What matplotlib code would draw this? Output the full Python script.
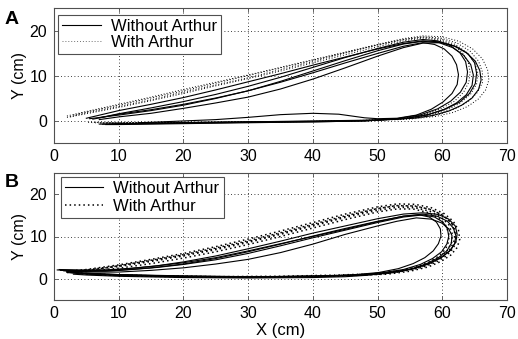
import matplotlib
matplotlib.use("Agg")
import matplotlib.pyplot as plt
from matplotlib.lines import Line2D

plt.rcParams['font.family'] = ['Liberation Sans', 'DejaVu Sans']

# ---------------- data (X, Y in cm) ----------------
A_without = [
    [(5,0.5),(10,2.2),(15,3.6),(20,5.1),(25,6.8),(30,8.6),(35,10.4),(40,12.3),(45,14.1),(50,15.9),(54,17.1),(57,17.7),(59.5,17.5),(61.8,16.6),(63.7,15.1),(65.1,13.2),(65.8,11.1),(66,9),(65.6,6.9),(64.6,5),(63,3.4),(61,2.1),(58.5,1.1),(55.5,0.5),(50,0.1),(45,0),(40,-0.1),(35,-0.2),(30,-0.3),(20,-0.5),(10,-0.7),(7.5,-0.8)],
    [(6,0.3),(10,1.4),(15,2.4),(20,3.6),(25,5.0),(30,6.6),(35,8.5),(40,10.6),(45,12.8),(50,14.9),(54,16.5),(57,17.3),(58.8,16.9),(60.3,15.9),(61.5,14.3),(62.2,12.4),(62.5,10.2),(62.3,8),(61.5,6),(60.1,4.1),(58.3,2.5),(56,1.2),(53,0.5),(50,0.4),(48,0.6),(44,1.4),(40,1.6),(35,1.3),(30,0.7),(25,0.2),(20,-0.1),(15,-0.4),(13,-0.5)],
    [(7,0.6),(10,1.5),(15,2.8),(20,4.2),(25,5.8),(30,7.6),(35,9.6),(40,11.8),(45,14.0),(50,16.0),(54,17.4),(57,18.0),(59.3,17.7),(61.2,16.7),(62.7,15.1),(63.6,13.1),(63.9,10.8),(63.7,8.5),(62.8,6.3),(61.3,4.3),(59.3,2.6),(56.7,1.3),(53,0.4),(48,-0.1),(40,-0.3),(30,-0.5),(20,-0.7),(10,-0.9),(8,-0.9)],
    [(5.5,0.4),(10,1.2),(15,2.2),(20,3.4),(25,4.9),(30,6.6),(35,8.7),(40,11.0),(45,13.3),(50,15.5),(54,17.0),(57,17.6),(59.5,17.3),(61.6,16.2),(63.3,14.5),(64.4,12.4),(64.8,10.1),(64.6,7.8),(63.7,5.7),(62.2,3.9),(60.2,2.4),(57.6,1.2),(54,0.4),(48,-0.1),(40,-0.3),(30,-0.4),(20,-0.6),(10,-0.8),(7,-0.8)],
    [(7,0.2),(10,0.8),(15,1.6),(20,2.7),(25,3.9),(30,5.2),(35,7.0),(40,9.2),(45,11.7),(50,14.3),(54,16.2),(57,17.2),(59.8,17.3),(62.2,16.4),(64,14.8),(65,12.8),(65.3,10.5),(65.1,8.2),(64.2,6),(62.7,4.1),(60.6,2.6),(58,1.4),(54.5,0.5),(48,0),(40,-0.2),(30,-0.3),(20,-0.5),(12,-0.7),(9,-0.8)],
]
A_with = [
    [(2,1.0),(5,2.0),(10,3.6),(15,5.2),(20,6.9),(25,8.5),(30,10.1),(35,11.8),(40,13.5),(45,15.2),(50,16.9),(54,18.2),(57,18.8),(60,18.6),(62.6,17.6),(64.7,15.9),(66.2,13.7),(67,11.3),(67.2,9),(66.7,6.8),(65.6,4.8),(63.9,3.1),(61.7,1.8),(59,0.9),(55,0.3),(50,0),(40,-0.2),(30,-0.3),(20,-0.4),(10,-0.5),(5,-0.4)],
    [(2.5,0.8),(5,1.7),(10,3.1),(15,4.6),(20,6.3),(25,7.9),(30,9.5),(35,11.3),(40,13.1),(45,15.0),(50,16.8),(54,18.0),(57,18.5),(59.7,18.1),(62,16.9),(63.8,15.1),(65,12.9),(65.5,10.5),(65.3,8.1),(64.4,5.9),(62.8,3.9),(60.7,2.3),(58,1.2),(55,0.5),(50,0.1),(40,-0.2),(30,-0.4),(20,-0.5),(10,-0.6),(7,-0.6)],
    [(3,1.2),(5,1.9),(10,3.4),(15,5.0),(20,6.6),(25,8.3),(30,10.0),(35,11.7),(40,13.4),(45,15.1),(50,16.8),(54,18.0),(57,18.6),(59.8,18.3),(62.3,17.2),(64.3,15.4),(65.6,13.2),(66.2,10.8),(66.2,8.4),(65.4,6.2),(64,4.2),(62,2.6),(59.5,1.4),(56.5,0.6),(52,0.2),(45,-0.1),(35,-0.3),(25,-0.4),(15,-0.5),(8,-0.5)],
    [(2,0.7),(5,1.5),(10,2.9),(15,4.4),(20,6.0),(25,7.7),(30,9.3),(35,11.0),(40,12.8),(45,14.6),(50,16.4),(54,17.7),(57,18.3),(59.5,17.9),(61.6,16.8),(63.1,15.1),(64,13),(64.3,10.8),(64.1,8.5),(63.3,6.3),(61.9,4.3),(59.9,2.7),(57.4,1.4),(54,0.5),(48,0),(40,-0.2),(30,-0.3),(20,-0.4),(10,-0.5),(6,-0.5)],
]
B_without = [
    [(0.5,2.1),(3,2.0),(6,1.9),(10,2.2),(15,2.9),(20,3.8),(25,5.0),(30,6.6),(35,8.3),(40,10.0),(45,11.7),(50,13.5),(54,14.8),(57,15.3),(59.2,14.8),(60.8,13.6),(61.7,12),(62.1,10.2),(61.9,8.3),(61.1,6.5),(59.7,4.9),(57.8,3.5),(55.3,2.3),(52,1.5),(48,1.0),(45,0.8),(40,0.6),(30,0.5),(20,0.7),(10,1.0),(5,1.3),(2,1.7)],
    [(1,2.0),(4,1.8),(8,1.8),(12,2.2),(16,2.7),(20,3.4),(25,4.5),(30,6.0),(35,7.8),(40,9.7),(45,11.5),(50,13.3),(54,14.6),(57,15.1),(58.8,14.6),(60.1,13.4),(60.8,11.8),(61,10),(60.7,8.2),(59.9,6.4),(58.5,4.8),(56.6,3.4),(54,2.2),(50.5,1.4),(46,0.8),(40,0.5),(30,0.4),(20,0.5),(10,0.8),(4,1.2),(2,1.5)],
    [(1.5,1.9),(5,1.6),(10,1.6),(15,2.0),(20,2.6),(25,3.5),(30,4.6),(35,6.2),(40,8.2),(45,10.5),(50,12.5),(53,13.6),(56,14.4),(58.3,14.1),(59.9,13.2),(61,11.8),(61.5,10.2),(61.4,8.4),(60.7,6.6),(59.4,5),(57.6,3.6),(55.2,2.3),(52,1.4),(48,0.8),(45,0.5),(40,0.3),(30,0.2),(20,0.3),(10,0.6),(5,0.9),(3,1.1)],
    [(0.8,2.2),(4,2.1),(8,2.1),(12,2.5),(16,3.1),(20,4.0),(25,5.4),(30,7.1),(35,8.9),(40,10.8),(45,12.5),(50,14.2),(54,15.3),(57,15.6),(59.4,15.2),(61,14.1),(62,12.5),(62.3,10.6),(62.1,8.7),(61.3,6.8),(59.9,5.1),(58,3.6),(55.5,2.4),(52.3,1.5),(48,0.9),(40,0.6),(30,0.5),(20,0.6),(10,1.0),(4,1.4),(2,1.7)],
    [(1.2,2.0),(5,1.8),(10,2.0),(15,2.6),(20,3.5),(25,4.8),(30,6.4),(35,8.2),(40,10.1),(45,11.9),(50,13.6),(54,14.8),(56.5,15.1),(58,14.6),(59.1,13.4),(59.7,11.8),(59.8,10.1),(59.4,8.3),(58.6,6.6),(57.3,5),(55.5,3.6),(53.2,2.4),(50.2,1.5),(46,0.9),(40,0.6),(30,0.4),(20,0.5),(10,0.9),(5,1.2),(2.5,1.5)],
]
B_with = [
    [(2,1.8),(5,2.2),(10,3.3),(15,4.6),(20,6.0),(25,7.6),(30,9.4),(35,11.3),(40,13.3),(45,15.3),(50,17.0),(53,17.7),(55.8,17.6),(58.3,16.8),(60.3,15.4),(61.7,13.6),(62.5,11.5),(62.7,9.4),(62.3,7.4),(61.3,5.6),(59.8,4.1),(57.8,2.8),(55,1.8),(51.5,1.1),(45,0.8),(40,0.6),(30,0.4),(20,0.5),(10,0.8),(5,1.2)],
    [(2.5,1.6),(5,2.0),(10,2.9),(15,4.1),(20,5.4),(25,6.9),(30,8.6),(35,10.5),(40,12.5),(45,14.5),(50,16.2),(53,16.9),(55.7,16.8),(58,16),(59.8,14.6),(61,12.8),(61.5,10.8),(61.5,8.8),(60.9,6.9),(59.8,5.2),(58.2,3.8),(56,2.6),(53.2,1.7),(49.5,1.1),(43,0.7),(35,0.5),(25,0.5),(15,0.7),(8,1.0),(4,1.3)],
    [(3,1.7),(6,2.1),(10,3.1),(15,4.4),(20,5.7),(25,7.3),(30,9.0),(35,10.9),(40,12.9),(45,14.9),(50,16.6),(53,17.3),(55.8,17.2),(58.2,16.4),(60.1,15),(61.4,13.2),(61.9,11.2),(61.9,9.2),(61.3,7.2),(60.2,5.4),(58.6,3.9),(56.5,2.7),(53.7,1.8),(50,1.2),(44,0.8),(35,0.5),(25,0.5),(15,0.7),(8,1.0),(5,1.2)],
    [(2,1.5),(5,1.8),(10,2.5),(15,3.6),(20,4.9),(25,6.4),(30,8.1),(35,10.0),(40,12.0),(45,14.0),(50,15.8),(53,16.5),(55.5,16.5),(57.7,15.7),(59.4,14.4),(60.5,12.7),(61,10.8),(61,8.9),(60.5,7),(59.5,5.4),(58,4),(56,2.8),(53.3,1.9),(49.5,1.2),(44,0.9),(35,0.6),(25,0.5),(15,0.6),(8,0.9),(4,1.2)],
    [(2.5,1.7),(5,2.1),(10,3.1),(15,4.3),(20,5.6),(25,7.1),(30,8.8),(35,10.7),(40,12.7),(45,14.7),(50,16.6),(52.5,17.2),(55.3,17.2),(57.9,16.5),(60,15.1),(61.4,13.3),(62.1,11.3),(62.2,9.2),(61.7,7.2),(60.6,5.4),(59,3.9),(56.9,2.7),(54,1.8),(50.5,1.1),(45,0.7),(35,0.5),(25,0.5),(15,0.7),(8,1.0),(4,1.3)],
]
x_ticks = [0, 10, 20, 30, 40, 50, 60, 70]
y_ticks = [0, 10, 20]
legend_labels = ["Without Arthur", "With Arthur"]
panel_labels = ["A", "B"]

# ---------------- figure ----------------
W, H = 518, 339
fig = plt.figure(figsize=(W/100, H/100), dpi=100)

def px_axes(l, t, r, b):
    return fig.add_axes([l/W, 1-b/H, (r-l)/W, (b-t)/H])

axA = px_axes(54, 8, 507, 143)
axB = px_axes(54, 173, 507, 300)

edge = '#505050'

def style(ax):
    ax.set_xlim(0, 70)
    ax.set_ylim(-5, 25)
    ax.set_xticks(x_ticks)
    ax.set_yticks(y_ticks)
    ax.tick_params(direction='in', length=3, width=0.6, color=edge,
                   labelsize=11.5, top=True, right=True)
    ax.tick_params(axis='x', pad=4)
    ax.tick_params(axis='y', pad=5)
    ax.grid(True, linestyle=(0, (1, 3)), color='black', linewidth=0.6)
    for s in ax.spines.values():
        s.set_color(edge)
        s.set_linewidth(0.8)
    ax.set_ylabel("Y (cm)", fontsize=11.5, labelpad=2,
                  family=['Liberation Sans Narrow', 'Liberation Sans', 'DejaVu Sans'])

def draw(ax, without, with_, dot_lw):
    for loop in without:
        xs, ys = zip(*loop)
        ax.plot(xs, ys, color='black', lw=0.8, solid_joinstyle='round')
    for loop in with_:
        xs, ys = zip(*loop)
        ax.plot(xs, ys, color='black', lw=dot_lw, linestyle=(0, (1, 2)))

draw(axA, A_without, A_with, 0.7)
draw(axB, B_without, B_with, 1.1)
style(axA)
style(axB)
axB.set_xlabel("X (cm)", fontsize=12, labelpad=2)

def legend(ax, anchor, dot_lw, dot_col, spacing):
    handles = [Line2D([], [], color='black', lw=0.8),
               Line2D([], [], color=dot_col, lw=dot_lw, linestyle=(0, (1, 2)))]
    leg = ax.legend(handles, legend_labels, loc='upper left', bbox_to_anchor=anchor,
                    bbox_transform=ax.transAxes, fontsize=12, frameon=True,
                    fancybox=False, framealpha=1, edgecolor=edge, borderaxespad=0,
                    handlelength=2.3, handletextpad=0.6, labelspacing=spacing,
                    borderpad=0.25)
    leg.get_frame().set_linewidth(0.8)

legend(axA, (0.009, 0.95), 0.7, '#707070', 0.05)
legend(axB, (0.015, 0.969), 1.1, 'black', 0.15)

fig.text(5/W, 1-19/H, panel_labels[0], fontsize=14, fontweight='bold', va='center', ha='left')
fig.text(5/W, 1-183/H, panel_labels[1], fontsize=14, fontweight='bold', va='center', ha='left')

fig.savefig("out.png", dpi=100)
